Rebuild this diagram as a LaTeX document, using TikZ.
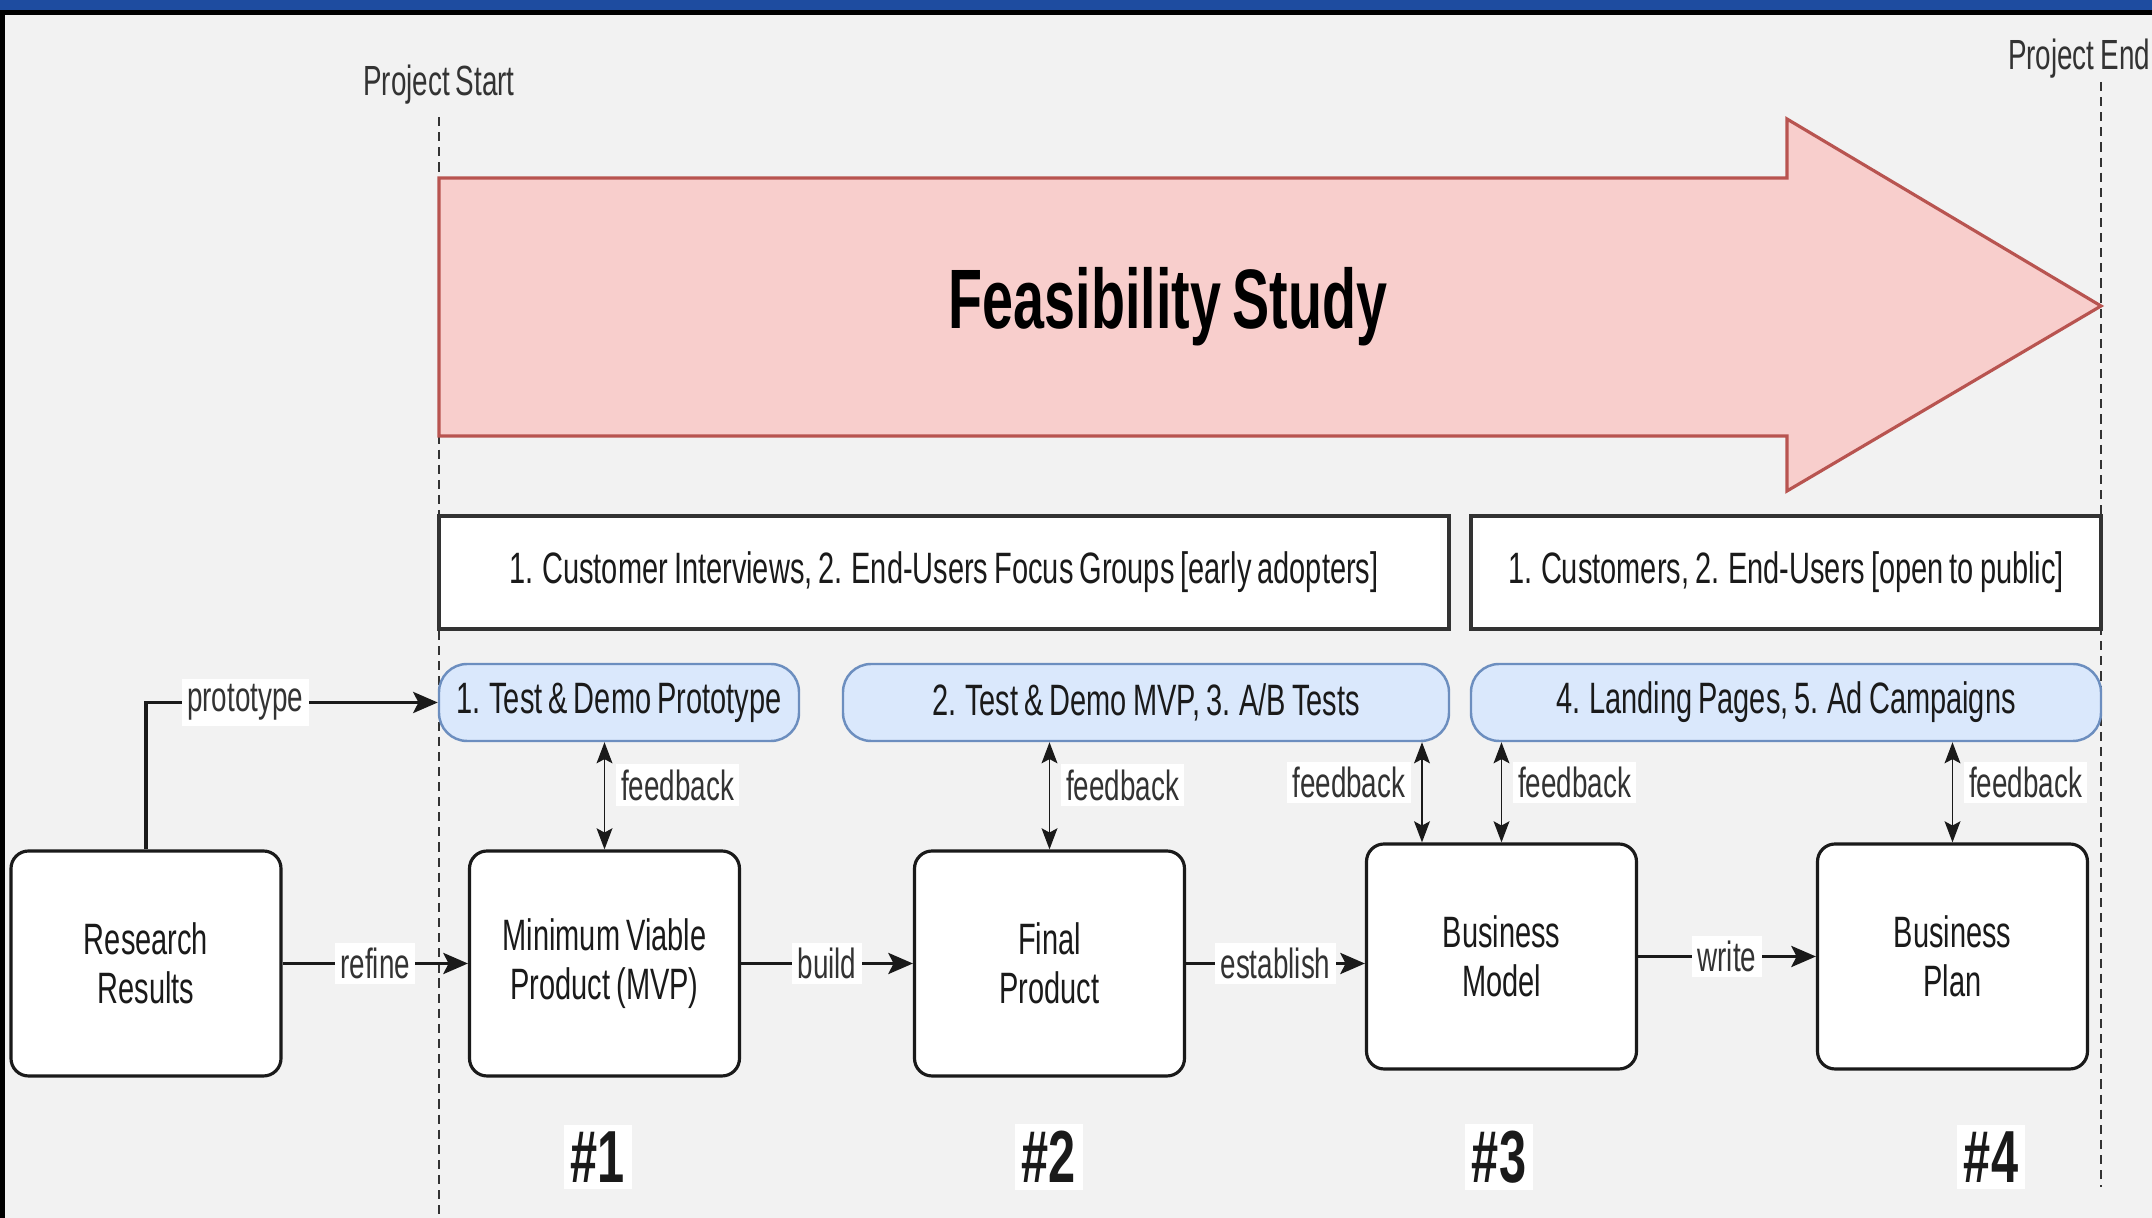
\documentclass[tikz,border=0pt]{standalone}
\usepackage{fontspec}
\setmainfont{Liberation Sans}[FakeStretch=0.66,WordSpace=0.75]
\usetikzlibrary{arrows.meta}
\definecolor{bg}{HTML}{F2F2F2}
\definecolor{bar}{HTML}{1E4CA0}
\definecolor{ink}{HTML}{1A1A1A}
\definecolor{mute}{HTML}{333333}
\definecolor{rose}{HTML}{F8CECC}
\definecolor{roseline}{HTML}{B85450}
\definecolor{sky}{HTML}{DAE8FC}
\definecolor{skyline}{HTML}{6C8EBF}

\begin{document}
\begin{tikzpicture}[box/.style={rounded corners=5pt,draw=ink,line width=0.9pt,fill=white,minimum width=2.70cm,minimum height=2.25cm,align=center,text=ink,font=\fontsize{12.5}{14}\selectfont},band/.style={draw=mute,line width=0.9pt,fill=white,minimum height=1.13cm,text=ink,font=\fontsize{12.5}{14}\selectfont},pill/.style={rounded corners=8pt,draw=skyline,line width=0.7pt,fill=sky,minimum height=0.77cm,text=ink,font=\fontsize{12.5}{14}\selectfont},flow/.style={-{Stealth[length=7pt,width=6pt,inset=1.5pt]},line width=0.9pt,ink},fback/.style={{Stealth[length=6pt,width=4.5pt,inset=1.2pt]}-{Stealth[length=6pt,width=4.5pt,inset=1.2pt]},line width=0.5pt,ink},lbl/.style={fill=white,inner sep=1.5pt,text=mute,font=\fontsize{12}{13}\selectfont},num/.style={fill=white,inner sep=2pt,text=ink,font=\bfseries\fontsize{21}{23}\selectfont},limit/.style={dash pattern=on 2.6pt off 1.7pt,line width=0.6pt,mute}]
 \fill[bg] (0,0) rectangle (21.52,12.18);
 \useasboundingbox (0,0) rectangle (21.52,12.18);
 % window frame
 \fill[bar] (0,12.08) rectangle (21.52,12.18);
 \fill[black] (0,12.03) rectangle (21.52,12.08);
 \fill[black] (0,0) rectangle (0.05,12.03);
 % project limits
 \node[text=mute,font=\fontsize{12}{13}\selectfont] (pstart) at (4.39,11.33) {Project Start};
 \draw[limit] (pstart.south) -- (4.39,0);
 \node[text=mute,font=\fontsize{12}{13}\selectfont] (pend) at (20.79,11.59) {Project End};
 \draw[limit] (21.01,11.36) -- (21.01,0.31);
 % feasibility arrow
 \draw[fill=rose,draw=roseline,line width=0.9pt] (4.39,10.40) -- (17.87,10.40) -- (17.87,10.99) -- (21.01,9.12) -- (17.87,7.27) -- (17.87,7.82) -- (4.39,7.82) -- cycle;
 \node[text=black,font=\bfseries\fontsize{24}{26}\selectfont] (feas) at (11.68,9.11) {Feasibility Study};
 % audiences
 \node[band,minimum width=10.10cm] (b1) at (9.44,6.455) {1. Customer Interviews, 2. End-Users Focus Groups [early adopters]};
 \node[band,minimum width=6.30cm] (b2) at (17.86,6.455) {1. Customers, 2. End-Users [open to public]};
 % tests
 \node[pill,minimum width=3.60cm] (p1) at (6.19,5.155) {1. Test \& Demo Prototype};
 \node[pill,minimum width=6.06cm] (p2) at (11.46,5.155) {2. Test \& Demo MVP, 3. A/B Tests};
 \node[pill,minimum width=6.30cm] (p3) at (17.86,5.155) {4. Landing Pages, 5. Ad Campaigns};
 % stages
 \node[box] (rr) at (1.46,2.545) {Research\\Results};
 \node[box] (mvp) at (6.045,2.545) {Minimum Viable\\Product (MVP)};
 \node[box] (fp) at (10.495,2.545) {Final\\Product};
 \node[box] (bm) at (15.015,2.615) {Business\\Model};
 \node[box] (bp) at (19.525,2.615) {Business\\Plan};
 \node[num] (n1) at (5.98,0.61) {\#1};
 \node[num] (n2) at (10.49,0.61) {\#2};
 \node[num] (n3) at (14.99,0.61) {\#3};
 \node[num] (n4) at (19.91,0.61) {\#4};
 % main flow
 \draw[flow] (rr.north) |- node[lbl,pos=0.67]{prototype} (p1.west);
 \draw[flow] (rr.east) -- node[lbl]{refine} (mvp.west);
 \draw[flow] (mvp.east) -- node[lbl]{build} (fp.west);
 \draw[flow] (fp.east) -- node[lbl]{establish} (fp.east -| bm.west);
 \draw[flow] (bm.east) -- node[lbl]{write} (bp.west);
 % feedback loops
 \coordinate (bmleft) at ([xshift=-0.795cm]bm.north);
 \draw[fback] (mvp.north) -- node[lbl,right=3pt,pos=0.6]{feedback} (mvp.north |- p1.south);
 \draw[fback] (fp.north) -- node[lbl,right=3pt,pos=0.6]{feedback} (fp.north |- p2.south);
 \draw[fback] (bmleft) -- node[lbl,left=3pt,pos=0.6]{feedback} (bmleft |- p2.south);
 \draw[fback] (bm.north) -- node[lbl,right=3pt,pos=0.6]{feedback} (bm.north |- p3.south);
 \draw[fback] (bp.north) -- node[lbl,right=3pt,pos=0.6]{feedback} (bp.north |- p3.south);
\end{tikzpicture}
\end{document}
